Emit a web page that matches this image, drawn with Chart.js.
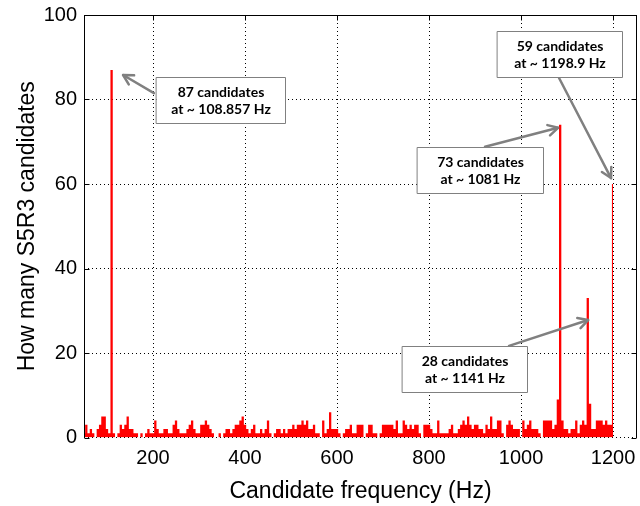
<!DOCTYPE html>
<html>
<head>
<meta charset="utf-8">
<script src="https://cdn.jsdelivr.net/npm/chart.js@4.4.1/dist/chart.umd.min.js"></script>
<style>
  html, body { margin: 0; padding: 0; background: #fff; }
  #wrap { width: 640px; height: 506px; }
</style>
</head>
<body>
<div id="wrap"><canvas id="histChart" width="640" height="506"></canvas></div>
<script>
// histogram bins, 5 Hz wide, first bin centred on 50 Hz
var binStart = 50;
var binWidth = 5;
var counts = [
  1, 3, 1, 2, 1, 0, 2, 3, 5, 5, 2, 1, 87, 1, 0, 1, 3, 2, 3, 5,   // 50 - 145
  2, 2, 1, 1, 0, 1, 0, 1, 2, 1, 1, 4, 2, 1, 1, 2, 2, 1, 1, 3,    // 150 - 245
  4, 2, 1, 1, 1, 2, 3, 4, 2, 1, 1, 3, 3, 4, 3, 2, 1, 0, 0, 1,    // 250 - 345
  0, 1, 2, 2, 1, 2, 3, 3, 4, 5, 3, 2, 1, 2, 3, 1, 1, 2, 1, 2,    // 350 - 445
  4, 1, 0, 1, 2, 2, 1, 2, 1, 2, 2, 3, 2, 3, 3, 4, 3, 4, 2, 2,    // 450 - 545
  3, 1, 1, 0, 4, 1, 2, 6, 2, 2, 2, 1, 0, 1, 2, 2, 3, 1, 1, 3,    // 550 - 645
  3, 3, 0, 1, 3, 3, 1, 1, 0, 1, 3, 3, 3, 3, 3, 2, 4, 1, 1, 4,    // 650 - 745
  3, 2, 3, 2, 3, 3, 1, 0, 3, 3, 3, 2, 1, 1, 4, 1, 1, 1, 1, 2,    // 750 - 845
  3, 1, 1, 2, 3, 4, 3, 5, 3, 2, 3, 3, 2, 2, 1, 3, 2, 5, 2, 2,    // 850 - 945
  4, 4, 1, 0, 3, 4, 3, 2, 2, 2, 0, 4, 2, 3, 4, 2, 2, 2, 1, 0,    // 950 - 1045
  4, 4, 4, 4, 2, 3, 9, 74, 4, 2, 2, 1, 2, 2, 4, 1, 3, 4, 3, 33,  // 1050 - 1145
  8, 2, 2, 4, 4, 4, 3, 4, 3, 3, 60                               // 1150 - 1200
];
var xTicks = [200, 400, 600, 800, 1000, 1200];
var yTicks = [0, 20, 40, 60, 80, 100];

// callout boxes and arrows, in data coordinates [left, top, right, bottom]
var callouts = [
  { lines: ['87 candidates', 'at ~ 108.857 Hz'], box: [206.5, 85.3, 487, 74.4], from: [202, 81.5], to: [135, 85.8] },
  { lines: ['59 candidates', 'at ~ 1198.9 Hz'], box: [947.8, 96.2, 1219.6, 85.3], from: [1082.6, 85.1], to: [1195.6, 61.4] },
  { lines: ['73 candidates', 'at ~ 1081 Hz'], box: [773.9, 68.8, 1047.8, 57.9], from: [921.7, 68.8], to: [1080.4, 73.3] },
  { lines: ['28 candidates', 'at ~ 1141 Hz'], box: [741.3, 21.7, 1013, 10.8], from: [973.9, 21.7], to: [1145.7, 27.8] }
];

var points = counts.map(function (c, i) {
  return { x: binStart + i * binWidth, y: c };
});

var calloutPlugin = {
  id: 'callouts',
  afterDatasetsDraw: function (chart) {
    var ctx = chart.ctx;
    var xs = chart.scales.x, ys = chart.scales.y;
    callouts.forEach(function (c) {
      var ax = xs.getPixelForValue(c.from[0]), ay = ys.getPixelForValue(c.from[1]);
      var bx = xs.getPixelForValue(c.to[0]), by = ys.getPixelForValue(c.to[1]);
      ctx.save();
      ctx.strokeStyle = '#808080';
      ctx.lineWidth = 2.5;
      ctx.lineCap = 'round';
      ctx.lineJoin = 'round';
      ctx.beginPath();
      ctx.moveTo(ax, ay);
      ctx.lineTo(bx, by);
      ctx.stroke();
      var ang = Math.atan2(by - ay, bx - ax), head = 11;
      ctx.beginPath();
      ctx.moveTo(bx - head * Math.cos(ang - 0.5), by - head * Math.sin(ang - 0.5));
      ctx.lineTo(bx, by);
      ctx.lineTo(bx - head * Math.cos(ang + 0.5), by - head * Math.sin(ang + 0.5));
      ctx.stroke();

      var x1 = Math.round(xs.getPixelForValue(c.box[0])) + 0.5;
      var y1 = Math.round(ys.getPixelForValue(c.box[1])) + 0.5;
      var x2 = Math.round(xs.getPixelForValue(c.box[2])) + 0.5;
      var y2 = Math.round(ys.getPixelForValue(c.box[3])) + 0.5;
      ctx.fillStyle = '#ffffff';
      ctx.fillRect(x1, y1, x2 - x1, y2 - y1);
      ctx.lineWidth = 1;
      ctx.strokeRect(x1, y1, x2 - x1, y2 - y1);

      ctx.fillStyle = '#000000';
      ctx.font = 'bold 14px Lato';
      ctx.textAlign = 'center';
      ctx.textBaseline = 'middle';
      var cx = (x1 + x2) / 2, cy = (y1 + y2) / 2;
      ctx.fillText(c.lines[0], cx, cy - 8.5);
      ctx.fillText(c.lines[1], cx, cy + 8.5);
      ctx.restore();
    });
  },
  afterDraw: function (chart) {
    // solid box on top, left, right with inward ticks
    var ctx = chart.ctx, a = chart.chartArea;
    var xs = chart.scales.x, ys = chart.scales.y;
    var l = Math.round(a.left) + 0.5, r = Math.round(a.right) - 0.5;
    var t = Math.round(a.top) + 0.5, b = Math.round(a.bottom);
    ctx.save();
    ctx.strokeStyle = '#000';
    ctx.lineWidth = 1;
    ctx.beginPath();
    ctx.moveTo(l, b); ctx.lineTo(l, t); ctx.lineTo(r, t); ctx.lineTo(r, b);
    yTicks.forEach(function (v) {
      var y = Math.round(ys.getPixelForValue(v)) + 0.5;
      ctx.moveTo(l, y); ctx.lineTo(l + 5, y);
      ctx.moveTo(r, y); ctx.lineTo(r - 5, y);
    });
    xTicks.forEach(function (v) {
      var x = Math.round(xs.getPixelForValue(v)) + 0.5;
      ctx.moveTo(x, t); ctx.lineTo(x, t + 5);
    });
    ctx.stroke();
    ctx.restore();
  }
};

var tickFont = { family: 'Liberation Sans', size: 20 };
var titleFont = { family: 'Liberation Sans', size: 23 };
var plainLabel = function (v) { return String(v); };

new Chart(document.getElementById('histChart'), {
  type: 'line',
  data: {
    datasets: [{
      data: points,
      stepped: 'middle',
      fill: 'origin',
      borderColor: '#ff0000',
      backgroundColor: '#ff0000',
      borderWidth: 0,
      pointRadius: 0
    }]
  },
  options: {
    responsive: false,
    animation: false,
    layout: { padding: { left: 0, right: 3, top: 15, bottom: 0 } },
    plugins: { legend: { display: false }, tooltip: { enabled: false } },
    scales: {
      x: {
        type: 'linear',
        min: 50,
        max: 1252,
        afterBuildTicks: function (s) { s.ticks = xTicks.map(function (v) { return { value: v }; }); },
        afterFit: function (s) { s.height = 68.5; s.paddingLeft = 0; s.paddingRight = 0; },
        ticks: { color: '#000', font: tickFont, padding: 9, maxRotation: 0, callback: plainLabel },
        grid: { color: '#000', lineWidth: 1, drawTicks: false },
        border: { display: false, dash: [1, 3] },
        title: {
          display: true,
          text: 'Candidate frequency (Hz)',
          color: '#000',
          font: titleFont,
          padding: { top: 0, bottom: 1 }
        }
      },
      y: {
        min: 0,
        max: 100,
        afterBuildTicks: function (s) { s.ticks = yTicks.map(function (v) { return { value: v }; }); },
        afterFit: function (s) { s.width = 84; s.paddingTop = 0; s.paddingBottom = 0; },
        ticks: { color: '#000', font: tickFont, padding: 7, callback: plainLabel },
        grid: { color: '#000', lineWidth: 1, drawTicks: false },
        border: { display: false, dash: [1, 3] },
        title: {
          display: true,
          text: 'How many S5R3 candidates',
          color: '#000',
          font: titleFont,
          padding: { top: 14, bottom: 0 }
        }
      }
    }
  },
  plugins: [calloutPlugin]
});
</script>
</body>
</html>
